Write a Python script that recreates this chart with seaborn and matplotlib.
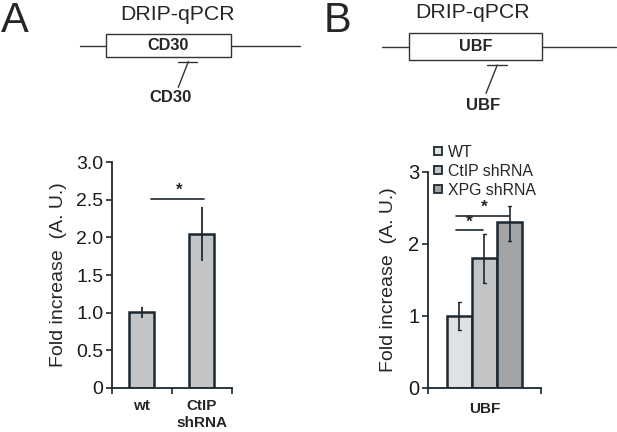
import matplotlib
matplotlib.use("Agg")
import matplotlib.pyplot as plt
import seaborn as sns
import pandas as pd
import numpy as np
from matplotlib.lines import Line2D
from matplotlib.patches import Rectangle

sns.set_style("ticks")
plt.rcParams['font.family'] = ['Liberation Sans', 'DejaVu Sans']

# ---------------- data ----------------
a_categories = ["wt", "CtIP\nshRNA"]
a_values = [1.01, 2.05]
a_err_low = [0.93, 1.68]
a_err_high = [1.08, 2.40]

b_group = ["UBF"]
b_series = ["WT", "CtIP shRNA", "XPG shRNA"]
b_values = [1.00, 1.80, 2.30]
b_err_low = [0.80, 1.45, 2.04]
b_err_high = [1.19, 2.13, 2.52]

a_yticks = [0, 0.5, 1.0, 1.5, 2.0, 2.5, 3.0]
a_yticklabels = ["0", "0.5", "1.0", "1.5", "2.0", "2.5", "3.0"]
b_yticks = [0, 1, 2, 3]
b_yticklabels = ["0", "1", "2", "3"]

EDGE = "#1c2831"
a_color = "#c3c4c6"
b_colors = ["#dfe1e3", "#c3c4c6", "#a3a4a6"]

fig = plt.figure(figsize=(6.17, 4.32), dpi=100)
W, H = 617, 432

def fx(px):
    return px / W

def fy(py):
    return 1 - py / H

# ---------------- panel A ----------------
axA = fig.add_axes([fx(111.7), fy(387.7), fx(231.7) - fx(111.7), fy(162.3) - fy(387.7)])
dfA = pd.DataFrame({"cat": a_categories, "val": a_values})
sns.barplot(data=dfA, x="cat", y="val", ax=axA, color=a_color, width=0.41,
            edgecolor=EDGE, linewidth=1.8, errorbar=None, saturation=1)
xs = [p.get_x() + p.get_width() / 2 for p in axA.patches]
for x, lo, hi in zip(xs, a_err_low, a_err_high):
    axA.plot([x, x], [lo, hi], color=EDGE, lw=1.3, solid_capstyle="butt")
axA.set_xlim(-0.5, 1.5)
axA.set_ylim(0, 3.0)
axA.set_yticks(a_yticks)
axA.set_yticklabels(a_yticklabels, fontsize=14)
axA.set_xticks([-0.5, 0.5, 1.5])
axA.set_xticklabels([])
axA.set_xlabel("")
axA.set_ylabel("Fold increase  (A. U.)", fontsize=14, labelpad=7)
for i, lab in enumerate(a_categories):
    axA.text(i, -0.15, lab, ha="center", va="top", fontsize=11, fontweight="bold",
             transform=axA.transData, linespacing=1.3, clip_on=False)
# significance
axA.plot([0.15, 1.04], [2.51, 2.51], color=EDGE, lw=1.2, clip_on=False)
axA.text(0.62, 2.53, "*", ha="center", va="bottom", fontsize=12, fontweight="bold")

# ---------------- panel B ----------------
axB = fig.add_axes([fx(427.7), fy(387.7), fx(541) - fx(427.7), fy(171.7) - fy(387.7)])
dfB = pd.DataFrame({"grp": b_group * 3, "series": b_series, "val": b_values})
sns.barplot(data=dfB, x="grp", y="val", hue="series", hue_order=b_series,
            palette=b_colors, ax=axB, width=0.667, edgecolor=EDGE, linewidth=1.8,
            errorbar=None, saturation=1, legend=False)
bars = [p for p in axB.patches if p.get_height() > 0]
bars = sorted(bars, key=lambda p: p.get_x())
for p, lo, hi in zip(bars, b_err_low, b_err_high):
    x = p.get_x() + p.get_width() / 2
    axB.plot([x, x], [lo, hi], color=EDGE, lw=1.2, solid_capstyle="butt")
    axB.plot([x - 0.012, x + 0.012], [lo, lo], color=EDGE, lw=1.0)
    axB.plot([x - 0.012, x + 0.012], [hi, hi], color=EDGE, lw=1.0)
axB.set_xlim(-0.5, 0.5)
axB.set_ylim(0, 3.0)
axB.set_yticks(b_yticks)
axB.set_yticklabels(b_yticklabels, fontsize=14.5)
axB.set_xticks([-0.5, 0.5])
axB.set_xticklabels([])
axB.set_xlabel("")
axB.set_ylabel("Fold increase  (A. U.)", fontsize=14, labelpad=8)
axB.text(0, -0.2, b_group[0], ha="center", va="top", fontsize=11, fontweight="bold")
axB.plot([-0.25, -0.009], [2.19, 2.19], color=EDGE, lw=1.2)
axB.text(-0.135, 2.20, "*", ha="center", va="bottom", fontsize=12.5, fontweight="bold")
axB.plot([-0.25, 0.22], [2.39, 2.39], color=EDGE, lw=1.2)
axB.text(0.0, 2.40, "*", ha="center", va="bottom", fontsize=12.5, fontweight="bold")

handles = [Line2D([0], [0], marker="s", linestyle="none", markersize=6,
                  markerfacecolor=c, markeredgecolor=EDGE, markeredgewidth=1.3)
           for c in b_colors]
axB.legend(handles, b_series, loc="upper left", bbox_to_anchor=(fx(432), fy(145)),
           bbox_transform=fig.transFigure, frameon=False, fontsize=11.4,
           handlelength=0.7, handletextpad=0.3, labelspacing=0.25, borderpad=0,
           borderaxespad=0)

for ax in (axA, axB):
    sns.despine(ax=ax)
    for s in ("left", "bottom"):
        ax.spines[s].set_color(EDGE)
        ax.spines[s].set_linewidth(1.3)
    ax.tick_params(axis="both", colors=EDGE, width=1.2, length=4, direction="out",
                   labelcolor="#1a1a1a", pad=2)

# ---------------- schematic diagrams ----------------
def schematic(letter, lx, ly, title_x, title_y, line_x0, line_x1, line_y,
              box_x0, box_x1, box_y0, box_y1, label, brk_x0, brk_x1, brk_y,
              slant_x0, slant_x1, slant_y1, lab2_x, lab2_y):
    fig.text(fx(lx), fy(ly), letter, fontsize=30, ha="left", va="baseline")
    fig.text(fx(title_x), fy(title_y), "DRIP-qPCR", fontsize=15.3, ha="center", va="center")
    fig.add_artist(Line2D([fx(line_x0), fx(box_x0)], [fy(line_y), fy(line_y)], color="#333333", lw=1.0))
    fig.add_artist(Line2D([fx(box_x1), fx(line_x1)], [fy(line_y), fy(line_y)], color="#333333", lw=1.0))
    fig.add_artist(Rectangle((fx(box_x0), fy(box_y1)), fx(box_x1) - fx(box_x0), fy(box_y0) - fy(box_y1),
                             facecolor="white", edgecolor="#333333", lw=1.0, transform=fig.transFigure))
    fig.text(fx((box_x0 + box_x1) / 2), fy((box_y0 + box_y1) / 2), label, fontsize=11.7,
             fontweight="bold", ha="center", va="center")
    fig.add_artist(Line2D([fx(brk_x0), fx(brk_x1)], [fy(brk_y), fy(brk_y)], color="#333333", lw=1.0))
    fig.add_artist(Line2D([fx(slant_x0), fx(slant_x1)], [fy(brk_y), fy(slant_y1)], color="#333333", lw=1.0))
    fig.text(fx(lab2_x), fy(lab2_y), label, fontsize=12, fontweight="bold", ha="center", va="center")

schematic("A", 1, 31.7, 178, 15, 80, 300, 45.7, 106, 231, 34.3, 56.7, "CD30",
          177.7, 197.3, 61.7, 188.3, 178.3, 87.3, 170, 97.5)
schematic("B", 324, 31.7, 472.5, 12, 381.7, 616, 46.7, 409, 542.3, 33.3, 60, "UBF",
          486.7, 507.3, 65, 497.3, 486, 93.3, 482.7, 105)

fig.savefig("out.png", dpi=100)
